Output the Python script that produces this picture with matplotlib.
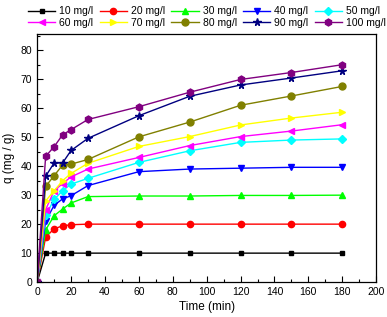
import numpy as np
import matplotlib.pyplot as plt
from matplotlib.ticker import MultipleLocator

plt.rcParams['font.family'] = ['Liberation Sans', 'DejaVu Sans']

# contact time (min)
time = [0, 5, 10, 15, 20, 30, 60, 90, 120, 150, 180]

# adsorbed amount q (mg/g) for each initial concentration
q_10 = [0, 10.0, 10.0, 10.0, 10.0, 10.0, 10.0, 10.0, 10.0, 10.0, 10.0]
q_20 = [0, 15.5, 18.4, 19.4, 19.8, 20.0, 20.0, 20.0, 20.0, 20.0, 20.0]
q_30 = [0, 18.0, 22.9, 25.2, 27.3, 29.5, 29.7, 29.7, 29.9, 29.9, 30.0]
q_40 = [0, 21.0, 26.5, 28.7, 29.8, 33.3, 38.1, 39.0, 39.3, 39.6, 39.6]
q_50 = [0, 23.0, 28.5, 31.5, 33.8, 35.8, 41.3, 45.3, 48.2, 49.0, 49.4]
q_60 = [0, 25.0, 31.5, 34.0, 36.3, 39.0, 43.0, 47.1, 50.2, 52.1, 54.3]
q_70 = [0, 28.0, 31.5, 35.0, 37.5, 41.0, 46.8, 50.2, 54.2, 56.6, 58.6]
q_80 = [0, 33.0, 36.7, 40.4, 40.7, 42.3, 50.1, 55.2, 61.0, 64.2, 67.5]
q_90 = [0, 36.5, 41.1, 41.1, 45.4, 49.6, 57.4, 64.1, 68.0, 70.4, 72.9]
q_100 = [0, 43.4, 46.7, 50.8, 52.6, 56.1, 60.5, 65.5, 69.9, 72.3, 75.0]

labels = ['10 mg/l', '20 mg/l', '30 mg/l', '40 mg/l', '50 mg/l',
          '60 mg/l', '70 mg/l', '80 mg/l', '90 mg/l', '100 mg/l']
series = [q_10, q_20, q_30, q_40, q_50, q_60, q_70, q_80, q_90, q_100]
colors = ['#000000', '#ff0000', '#00ff00', '#0000ff', '#00ffff',
          '#ff00ff', '#ffff00', '#808000', '#000080', '#800080']
markers = ['s', 'o', '^', 'v', 'D', '<', '>', 'o', '*', 'h']
msizes = [3.5, 4.5, 4.5, 4.5, 4, 4.5, 4.5, 5, 5.5, 5]

fig = plt.figure(figsize=(3.87, 3.17), dpi=100)
ax = fig.add_axes([0.096, 0.110, 0.876, 0.782])

handles = []
for q, lab, c, m, ms in zip(series, labels, colors, markers, msizes):
    h, = ax.plot(time, q, color=c, marker=m, markersize=ms, lw=1.0, label=lab)
    handles.append(h)

ax.set_xlim(0, 200)
ax.set_ylim(0, 85.5)
ax.xaxis.set_major_locator(MultipleLocator(20))
ax.xaxis.set_minor_locator(MultipleLocator(10))
ax.yaxis.set_major_locator(MultipleLocator(10))
ax.yaxis.set_minor_locator(MultipleLocator(5))
ax.tick_params(which='both', direction='in', labelsize=7.5, width=0.8)
ax.tick_params(which='major', length=4)
ax.tick_params(which='minor', length=2)
for s in ax.spines.values():
    s.set_linewidth(0.9)

ax.set_xlabel('Time (min)', fontsize=8.5, labelpad=3)
ax.set_ylabel('q (mg / g)', fontsize=8.5, labelpad=4)

# legend is row-major in the picture, matplotlib fills column-major
order = [0, 5, 1, 6, 2, 7, 3, 8, 4, 9]
fig.legend([handles[i] for i in order], [labels[i] for i in order],
           loc='upper center', bbox_to_anchor=(0.535, 1.0), ncol=5,
           frameon=False, fontsize=7.5, handlelength=2.6, handletextpad=0.4,
           columnspacing=0.6, labelspacing=0.15, borderaxespad=0.2)

fig.savefig('out.png', dpi=100)
